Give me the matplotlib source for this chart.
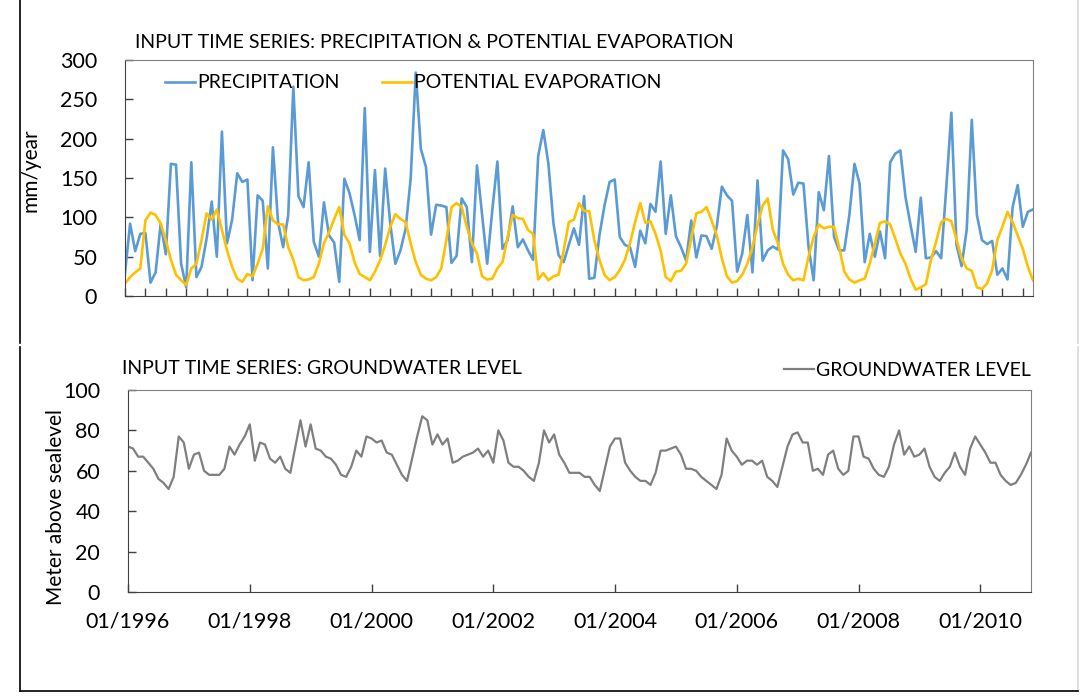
#!/usr/bin/env python3
"""Input time series: precipitation, potential evaporation and groundwater level."""

import matplotlib
import numpy as np

matplotlib.use("Agg")
import matplotlib.pyplot as plt
from matplotlib.lines import Line2D

# monthly values, 01/1996 .. 11/2010
precipitation = [
    29, 92, 57, 79, 80, 17, 30, 92, 53, 168, 167, 41, 11, 170, 24, 37, 73, 120, 50, 209,
    67, 97, 156, 145, 148, 20, 128, 121, 35, 189, 94, 62, 103, 266, 127, 113, 170, 69, 50, 119,
    77, 68, 18, 149, 131, 103, 71, 239, 56, 160, 51, 162, 92, 41, 58, 85, 149, 284, 187, 164,
    78, 116, 115, 113, 42, 51, 124, 113, 43, 166, 103, 41, 109, 171, 60, 71, 114, 62, 72, 58,
    46, 178, 211, 168, 92, 52, 43, 65, 86, 65, 127, 22, 23, 77, 115, 145, 148, 75, 65, 62,
    37, 83, 67, 117, 107, 171, 79, 128, 76, 62, 45, 96, 49, 77, 76, 60, 88, 139, 128, 121,
    31, 54, 103, 30, 147, 45, 58, 63, 59, 185, 174, 129, 144, 143, 62, 20, 132, 109, 178, 75,
    58, 58, 103, 168, 143, 43, 79, 50, 82, 48, 170, 181, 185, 126, 90, 56, 125, 48, 49, 57,
    48, 138, 233, 65, 38, 84, 224, 103, 71, 66, 70, 27, 35, 21, 113, 141, 88, 107, 110,
]
evaporation = [
    16, 24, 30, 35, 96, 106, 103, 92, 71, 46, 27, 20, 14, 35, 41, 71, 105, 97, 110, 84,
    58, 37, 22, 18, 28, 25, 41, 60, 114, 96, 91, 91, 62, 46, 24, 20, 21, 24, 41, 67,
    81, 98, 113, 78, 67, 43, 28, 24, 20, 31, 45, 65, 88, 104, 98, 94, 67, 43, 27, 22,
    20, 24, 35, 71, 113, 118, 113, 88, 67, 54, 25, 21, 22, 35, 43, 75, 103, 99, 98, 84,
    79, 21, 29, 20, 25, 27, 58, 94, 97, 118, 108, 108, 71, 46, 27, 20, 24, 33, 46, 67,
    94, 118, 93, 95, 79, 58, 24, 19, 31, 32, 41, 73, 105, 107, 113, 96, 77, 48, 25, 17,
    19, 27, 41, 62, 90, 115, 124, 84, 67, 41, 27, 20, 22, 20, 50, 75, 91, 86, 88, 88,
    62, 31, 21, 17, 20, 22, 41, 67, 93, 95, 91, 73, 54, 41, 22, 8, 11, 15, 46, 69,
    94, 98, 95, 72, 48, 35, 32, 11, 9, 16, 33, 71, 88, 107, 94, 77, 60, 37, 20,
]
groundwater = [
    72, 71, 67, 67, 64, 61, 56, 54, 51, 57, 77, 74, 61, 68, 69, 60, 58, 58, 58, 61,
    72, 68, 73, 77, 83, 65, 74, 73, 66, 64, 67, 61, 59, 72, 85, 72, 83, 71, 70, 67,
    66, 63, 58, 57, 62, 70, 67, 77, 76, 74, 75, 69, 68, 63, 58, 55, 66, 77, 87, 85,
    73, 78, 73, 76, 64, 65, 67, 68, 69, 71, 67, 70, 64, 80, 75, 64, 62, 62, 60, 57,
    55, 64, 80, 74, 78, 68, 64, 59, 59, 59, 57, 57, 53, 50, 61, 72, 76, 76, 64, 60,
    57, 55, 55, 53, 59, 70, 70, 71, 72, 68, 61, 61, 60, 57, 55, 53, 51, 58, 76, 70,
    67, 63, 65, 65, 63, 65, 57, 55, 52, 62, 72, 78, 79, 74, 74, 60, 61, 58, 68, 70,
    61, 58, 60, 77, 77, 67, 66, 61, 58, 57, 62, 73, 80, 68, 72, 67, 68, 71, 62, 57,
    55, 59, 62, 69, 62, 58, 71, 77, 73, 69, 64, 64, 58, 55, 53, 54, 58, 63, 69,
]
date_labels = ["01/1996", "01/1998", "01/2000", "01/2002",
               "01/2004", "01/2006", "01/2008", "01/2010"]

W, H = 1083, 697
plt.rcParams["font.family"] = ["Lato", "DejaVu Sans"]
fig = plt.figure(figsize=(W / 100, H / 100), dpi=100)


def px(x0, y0, x1, y1):
    return [x0 / W, 1 - y1 / H, (x1 - x0) / W, (y1 - y0) / H]


months = np.arange(len(precipitation))
fs = 14
tick_fs = 15.5

# top panel
ax1 = fig.add_axes(px(125, 60, 1033, 296))
ax1.plot(months, precipitation, color="#5B9BD5", lw=1.9, label="PRECIPITATION")
ax1.plot(months, evaporation, color="#FFC000", lw=1.9, label="POTENTIAL EVAPORATION")
ax1.set_xlim(0, months[-1])
ax1.set_ylim(0, 300)
ax1.set_yticks(np.arange(0, 301, 50))
ax1.set_xticks(np.arange(0, months[-1] + 1, 4))
ax1.set_xticklabels([])
ax1.set_ylabel("mm/year", fontsize=15)
ax1.yaxis.set_label_coords(41 / W, 1 - 170 / H, transform=fig.transFigure)
ax1.legend(loc="center left", bbox_to_anchor=(165 / W, 1 - 83 / H),
           bbox_transform=fig.transFigure, ncols=2, frameon=False, fontsize=fs,
           handlelength=1.55, handletextpad=0.1, columnspacing=2.2,
           borderaxespad=0, borderpad=0)
fig.text(135 / W, 1 - 42 / H,
         "INPUT TIME SERIES: PRECIPITATION & POTENTIAL EVAPORATION",
         fontsize=fs, va="center", ha="left")

# bottom panel
ax2 = fig.add_axes(px(128, 390, 1031, 592))
ax2.plot(months, groundwater, color="#7F7F7F", lw=1.6, label="GROUNDWATER LEVEL")
ax2.set_xlim(0, months[-1])
ax2.set_ylim(0, 100)
ax2.set_yticks(np.arange(0, 101, 20))
ax2.set_xticks(np.arange(0, months[-1] + 1, 24), date_labels)
ax2.set_ylabel("Meter above sealevel", fontsize=15)
ax2.yaxis.set_label_coords(66 / W, 1 - 507 / H, transform=fig.transFigure)
ax2.legend(loc="center right", bbox_to_anchor=(1031 / W, 1 - 370 / H),
           bbox_transform=fig.transFigure, frameon=False, fontsize=fs,
           handlelength=1.55, handletextpad=0.1, borderaxespad=0, borderpad=0)
fig.text(122 / W, 1 - 369 / H, "INPUT TIME SERIES: GROUNDWATER LEVEL",
         fontsize=fs, va="center", ha="left")

for ax in (ax1, ax2):
    ax.tick_params(direction="in", length=6, width=1, colors="#404040",
                   labelcolor="black", labelsize=tick_fs)
    ax.tick_params(axis="y", pad=20)
    ax.tick_params(axis="x", pad=14)
    for side in ("left", "bottom"):
        ax.spines[side].set_color("#404040")
    for side in ("top", "right"):
        ax.spines[side].set_color("#808080")

# chart-object frames
for y0, y1 in ((0, 343), (347, 691)):
    fig.add_artist(Line2D([20 / W, 20 / W], [1 - y0 / H, 1 - y1 / H],
                          color="black", lw=1.2))
    fig.add_artist(Line2D([1078 / W, 1078 / W], [1 - y0 / H, 1 - y1 / H],
                          color="#D9D9D9", lw=1.2))
fig.add_artist(Line2D([20 / W, 1078 / W], [1 - 691 / H, 1 - 691 / H],
                      color="black", lw=1.2))

fig.savefig("out.png", dpi=100)
